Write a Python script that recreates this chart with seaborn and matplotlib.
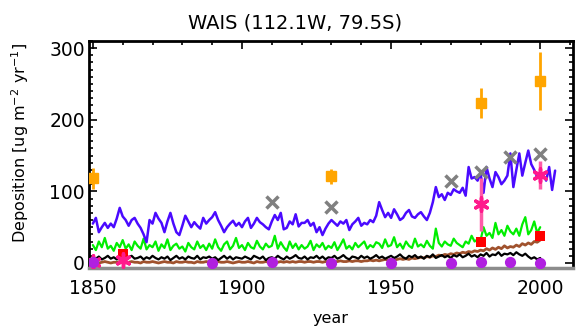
import numpy as np
import pandas as pd
import matplotlib
matplotlib.use("Agg")
import matplotlib.pyplot as plt
from matplotlib.ticker import MultipleLocator
import seaborn as sns

# ---------------- data ----------------
years_blue = list(range(1850, 2006))
blue = [55, 63, 43, 50, 56, 49, 55, 50, 62, 77,
        65, 60, 52, 60, 63, 55, 49, 40, 29, 60,
        55, 70, 62, 56, 43, 58, 70, 55, 43, 39,
        52, 66, 58, 50, 57, 52, 48, 63, 55, 60,
        64, 71, 60, 52, 43, 50, 55, 59, 52, 56,
        50, 58, 63, 49, 55, 63, 57, 54, 50, 47,
        58, 67, 60, 70, 47, 49, 58, 54, 68, 51,
        56, 56, 60, 52, 56, 43, 50, 39, 48, 55,
        60, 56, 52, 58, 55, 60, 46, 54, 58, 63,
        52, 56, 54, 60, 57, 66, 85, 74, 64, 70,
        63, 75, 68, 60, 63, 70, 74, 65, 63, 68,
        71, 65, 60, 70, 85, 106, 92, 96, 88, 98,
        95, 103, 100, 98, 105, 94, 134, 118, 120, 115,
        125, 98, 134, 118, 106, 127, 120, 110, 115, 122,
        153, 106, 130, 153, 122, 140, 157, 138, 130, 120,
        125, 123, 115, 134, 102, 129]

years_core = list(range(1850, 2001))
green = [25, 18, 30, 22, 35, 20, 24, 17, 28, 22,
         32, 20, 26, 18, 30, 24, 20, 34, 19, 25,
         22, 30, 17, 26, 21, 33, 18, 24, 27, 20,
         23, 16, 28, 22, 19, 30, 21, 25, 18, 27,
         20, 33, 22, 17, 26, 30, 19, 24, 35, 21,
         25, 18, 28, 22, 20, 31, 23, 19, 27, 22,
         24, 38, 20, 29, 22, 17, 30, 21, 27, 19,
         25, 20, 23, 31, 18, 26, 22, 28, 19, 24,
         21, 29, 18, 25, 33, 20, 24, 19, 28, 22,
         26, 30, 20, 25, 22, 29, 27, 21, 33, 23,
         25, 36, 22, 27, 20, 30, 24, 21, 34, 23,
         26, 22, 31, 24, 20, 48, 28, 23, 30, 26,
         24, 34, 28, 25, 22, 30, 27, 38, 30, 33,
         32, 50, 38, 42, 35, 56, 40, 46, 38, 52,
         44, 40, 48, 38, 54, 64, 40, 46, 58, 42,
         50]

black = [8, 6, 9, 5, 7, 10, 6, 8, 5, 9,
         7, 4, 8, 10, 6, 7, 9, 5, 8, 6,
         10, 7, 5, 8, 6, 9, 4, 7, 10, 6,
         8, 5, 9, 7, 6, 10, 5, 8, 7, 9,
         6, 8, 4, 7, 10, 6, 9, 5, 8, 7,
         6, 9, 7, 5, 10, 8, 6, 9, 4, 7,
         8, 6, 10, 7, 5, 9, 6, 8, 11, 7,
         6, 9, 5, 8, 7, 10, 6, 9, 5, 8,
         7, 10, 6, 8, 11, 7, 5, 9, 8, 6,
         10, 7, 9, 6, 8, 11, 7, 9, 6, 8,
         10, 7, 9, 12, 8, 6, 10, 8, 11, 7,
         9, 6, 10, 8, 12, 7, 9, 11, 8, 10,
         7, 11, 9, 12, 8, 10, 13, 9, 11, 8,
         12, 10, 14, 9, 12, 11, 15, 10, 13, 12,
         14, 11, 15, 12, 10, 13, 9, 6, 8, 5,
         7]

brown = [0, 1, 0, 1, 2, 1, 0, 1, 1, 2,
         1, 0, 1, 2, 1, 1, 0, 2, 1, 1,
         2, 1, 0, 1, 2, 1, 1, 0, 2, 1,
         1, 2, 1, 1, 0, 2, 1, 1, 2, 1,
         1, 0, 2, 1, 1, 2, 1, 0, 1, 2,
         1, 1, 2, 1, 0, 2, 1, 1, 2, 1,
         2, 1, 1, 2, 1, 2, 1, 2, 1, 2,
         2, 1, 2, 2, 1, 2, 2, 1, 2, 2,
         1, 2, 2, 3, 2, 2, 3, 2, 3, 3,
         2, 3, 3, 4, 3, 4, 3, 4, 5, 4,
         5, 4, 5, 6, 5, 6, 5, 7, 6, 7,
         8, 7, 9, 8, 10, 9, 11, 10, 12, 11,
         13, 12, 14, 13, 15, 14, 16, 15, 17, 16,
         18, 17, 20, 18, 21, 19, 22, 20, 24, 21,
         23, 22, 25, 23, 27, 25, 28, 26, 30, 29,
         32]

# sampled points
x_years = [1910, 1930, 1970, 1980, 1990, 2000]
x_vals = [85, 78, 114, 127, 148, 152]

orange_years = [1850, 1930, 1980, 2000]
orange_vals = [118, 121, 223, 254]
orange_err = [14, 10, 21, 41]

pink_years = [1850, 1860, 1980, 2000]
pink_vals = [2, 4, 82, 123]
pink_err = [0, 0, 37, 20]

red_years = [1860, 1980, 2000]
red_vals = [12, 30, 38]

purple_years = [1850, 1890, 1910, 1930, 1950, 1970, 1980, 1990, 2000]
purple_vals = [1, 0, 1, 0, 0, 0, 2, 1, 0]

# ---------------- plot ----------------
sns.set_style("ticks")
plt.rcParams['font.family'] = ['DejaVu Sans']
plt.rcParams['text.color'] = 'black'
plt.rcParams['xtick.color'] = 'black'
plt.rcParams['ytick.color'] = 'black'
plt.rcParams['xtick.labelcolor'] = 'black'
plt.rcParams['ytick.labelcolor'] = 'black'

fig = plt.figure(figsize=(5.84, 3.27), dpi=100)
ax = fig.add_axes([89/584, 1 - 268/327, (573-89)/584, (268-41)/327])

df_blue = pd.DataFrame({"year": years_blue, "val": blue})
df_core = pd.DataFrame({"year": years_core, "green": green, "black": black, "brown": brown})

sns.lineplot(data=df_core, x="year", y="brown", color="#a0522d", lw=2.0, ax=ax, zorder=2)
sns.lineplot(data=df_core, x="year", y="black", color="black", lw=1.6, ax=ax, zorder=3)
sns.lineplot(data=df_core, x="year", y="green", color="#00ee00", lw=1.6, ax=ax, zorder=3)
sns.lineplot(data=df_blue, x="year", y="val", color="#4a0aff", lw=1.8, ax=ax, zorder=4)

ax.plot(x_years, x_vals, ls="none", marker="x", ms=9, mew=2.5, color="#808080", zorder=5)

ax.errorbar(orange_years, orange_vals, yerr=orange_err, fmt="s", ms=7,
            color="#ffa500", ecolor="#ffa500", elinewidth=2, capsize=0, zorder=6)
ax.errorbar(pink_years, pink_vals, yerr=pink_err, fmt="none",
            ecolor="#ff5aa8", elinewidth=2.5, capsize=0, zorder=6)
sns.scatterplot(x=pink_years, y=pink_vals, marker=(6, 2, 0), s=90, color="#ff1a8c",
                linewidth=2.5, edgecolor="#ff1a8c", ax=ax, zorder=7)
sns.scatterplot(x=red_years, y=red_vals, marker="s", s=45, color="#ff0000",
                linewidth=0, ax=ax, zorder=6)
sns.scatterplot(x=purple_years, y=purple_vals, marker="o", s=65, color="#b020e0",
                linewidth=0, ax=ax, zorder=7)

ax.set_xlim(1848.7, 2011)
ax.set_ylim(-7, 310)
ax.set_xticks([1850, 1900, 1950, 2000])
ax.set_yticks([0, 100, 200, 300])
ax.xaxis.set_minor_locator(MultipleLocator(10))
ax.yaxis.set_minor_locator(MultipleLocator(10))
ax.tick_params(axis="both", which="both", direction="in", top=True, right=True,
               labelsize=13.5, color="black", labelcolor="black")
ax.tick_params(which="major", length=6, width=1.2)
ax.tick_params(which="minor", length=3, width=1.2)
ax.tick_params(axis="x", which="both", bottom=False, pad=8)
ax.tick_params(axis="y", pad=3)
for s in ["top", "left", "right"]:
    ax.spines[s].set_linewidth(2)
    ax.spines[s].set_color("black")
ax.spines["bottom"].set_linewidth(2.5)
ax.spines["bottom"].set_color("#8c8c8c")

ax.set_xlabel("")
ax.set_ylabel("")
fig.text(331/584, 1 - 318/327, "year", ha="center", va="center", fontsize=11.5,
         color="black")
fig.text(20/584, 1 - 143/327, "Deposition [ug m$^{-2}$ yr$^{-1}$]", ha="center",
         va="center", rotation=90, fontsize=11.5, color="black")
fig.text(295/584, 1 - 23/327, "WAIS (112.1W, 79.5S)", ha="center", va="center",
         fontsize=14, color="black")

fig.savefig("out.png", dpi=100)
